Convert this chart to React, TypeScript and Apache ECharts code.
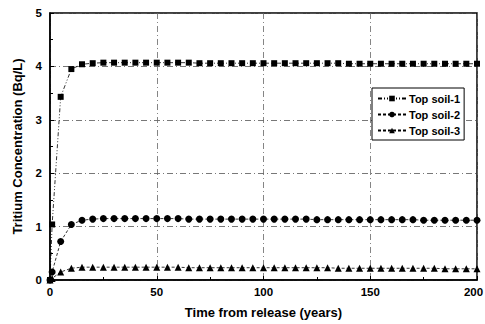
import React, { useEffect, useRef } from "react";
import * as echarts from "echarts";

const times = [0, 1, 5, 10, 15, 20, 25, 30, 35, 40, 45, 50, 55, 60, 65, 70, 75, 80, 85, 90, 95, 100, 105, 110, 115, 120, 125, 130, 135, 140, 145, 150, 155, 160, 165, 170, 175, 180, 185, 190, 195, 200];

const soil1 = [0, 1.04, 3.43, 3.95, 4.04, 4.06,
  4.07, 4.07, 4.07, 4.07, 4.07, 4.07, 4.07, 4.07, 4.07,
  4.06, 4.06, 4.06, 4.06, 4.06, 4.06, 4.06, 4.06, 4.06, 4.06, 4.06, 4.06, 4.06, 4.06,
  4.05, 4.05, 4.05, 4.05, 4.05, 4.05, 4.05, 4.05, 4.05, 4.05, 4.05, 4.05, 4.05];

const soil2 = [0, 0.15, 0.72, 1.04, 1.12, 1.14,
  1.15, 1.15, 1.15, 1.15, 1.15, 1.15, 1.15, 1.15,
  1.14, 1.14, 1.14, 1.14, 1.14, 1.14, 1.14, 1.14, 1.14, 1.14, 1.14, 1.14,
  1.13, 1.13, 1.13, 1.13, 1.13, 1.13, 1.13, 1.13, 1.13, 1.13,
  1.12, 1.12, 1.12, 1.12, 1.12, 1.12];

const soil3 = [0, 0.03, 0.15, 0.22, 0.24, 0.24,
  0.24, 0.24, 0.24, 0.24, 0.24, 0.24, 0.24, 0.24,
  0.23, 0.23, 0.23, 0.23, 0.23, 0.23, 0.23, 0.23, 0.23, 0.23, 0.23, 0.23, 0.23, 0.23,
  0.22, 0.22, 0.22, 0.22, 0.22, 0.22, 0.22, 0.22, 0.22, 0.22,
  0.21, 0.21, 0.21, 0.21];

const seriesNames = ["Top soil-1", "Top soil-2", "Top soil-3"];
const xTicks = [0, 50, 100, 150, 200];
const yTicks = [0, 1, 2, 3, 4, 5];

const FONT = "Liberation Sans";

export default function App() {
  const ref = useRef<HTMLDivElement>(null);
  useEffect(() => {
    if (!ref.current) return;
    const chart = echarts.init(ref.current, undefined, { renderer: "svg" });
    const mk = (arr: number[]) => times.map((t, i) => [t, arr[i]]);
    const symbols = ["rect", "circle", "triangle"];
    const sizes = [6, 7, 7];
    const dashes: any[] = [[4, 2, 1, 2, 1, 2], [3, 2], [3, 2]];
    const allData = [soil1, soil2, soil3];
    const lastX = xTicks[xTicks.length - 1];
    chart.setOption({
      animation: false,
      backgroundColor: "#fff",
      textStyle: { fontFamily: FONT },
      grid: {
        left: 50, right: 8, top: 13, bottom: 44,
        outerBoundsMode: "none",
        containLabel: false,
        show: true, borderColor: "#000", borderWidth: 1.5,
      },
      legend: {
        orient: "vertical",
        left: 372, top: 88,
        backgroundColor: "#fff",
        borderColor: "#000", borderWidth: 1,
        padding: [5, 4, 4, 5],
        itemGap: 5,
        itemWidth: 28, itemHeight: 7,
        textStyle: { fontFamily: FONT, fontWeight: "bold", fontSize: 11, color: "#000", padding: [0, 0, 0, -2] },
        data: seriesNames,
      },
      xAxis: {
        type: "value",
        min: 0, max: 200, interval: 50,
        name: "Time from release (years)",
        nameLocation: "middle",
        nameGap: 26,
        nameTextStyle: { fontFamily: FONT, fontWeight: "bold", fontSize: 13, color: "#000" },
        axisLine: { show: true, lineStyle: { color: "#000", width: 1.5 } },
        axisTick: { show: true, inside: true, length: 4, lineStyle: { color: "#000" } },
        minorTick: { show: true, splitNumber: 2, length: 3, lineStyle: { color: "#000" } },
        axisLabel: {
          fontFamily: FONT, fontWeight: "bold", fontSize: 11.5, color: "#000", margin: 6,
          formatter: (v: number) => (xTicks.includes(v) ? (v === lastX ? "{r|" + v + "}" : String(v)) : ""),
          rich: {
            r: { fontFamily: FONT, fontWeight: "bold", fontSize: 11.5, color: "#000", padding: [0, 7, 0, 0] },
          },
        },
        splitLine: { show: true, lineStyle: { color: "#666", width: 0.8, type: [6, 3, 1, 3] } },
      },
      yAxis: {
        type: "value",
        min: 0, max: 5, interval: 1,
        name: "Tritium Concentration (Bq/L)",
        nameLocation: "middle",
        nameGap: 26,
        nameTextStyle: { fontFamily: FONT, fontWeight: "bold", fontSize: 13, color: "#000" },
        axisLine: { show: true, lineStyle: { color: "#000", width: 1.5 } },
        axisTick: { show: true, inside: true, length: 4, lineStyle: { color: "#000" } },
        minorTick: { show: true, splitNumber: 2, length: 3, lineStyle: { color: "#000" } },
        axisLabel: {
          fontFamily: FONT, fontWeight: "bold", fontSize: 11.5, color: "#000", margin: 8,
          formatter: (v: number) => (yTicks.includes(v) ? String(v) : ""),
        },
        splitLine: { show: true, lineStyle: { color: "#555", width: 0.8, type: [6, 3, 1, 3] } },
      },
      series: seriesNames.map((name, i) => ({
        name,
        type: "line",
        data: mk(allData[i]),
        symbol: symbols[i],
        symbolSize: sizes[i],
        showAllSymbol: true,
        itemStyle: { color: "#000" },
        lineStyle: { color: "#000", width: 0.8, type: dashes[i] },
        z: 3,
      })),
    });
    return () => chart.dispose();
  }, []);
  return <div ref={ref} style={{ width: 485, height: 324, position: "absolute", left: 0, top: 0 }} />;
}
